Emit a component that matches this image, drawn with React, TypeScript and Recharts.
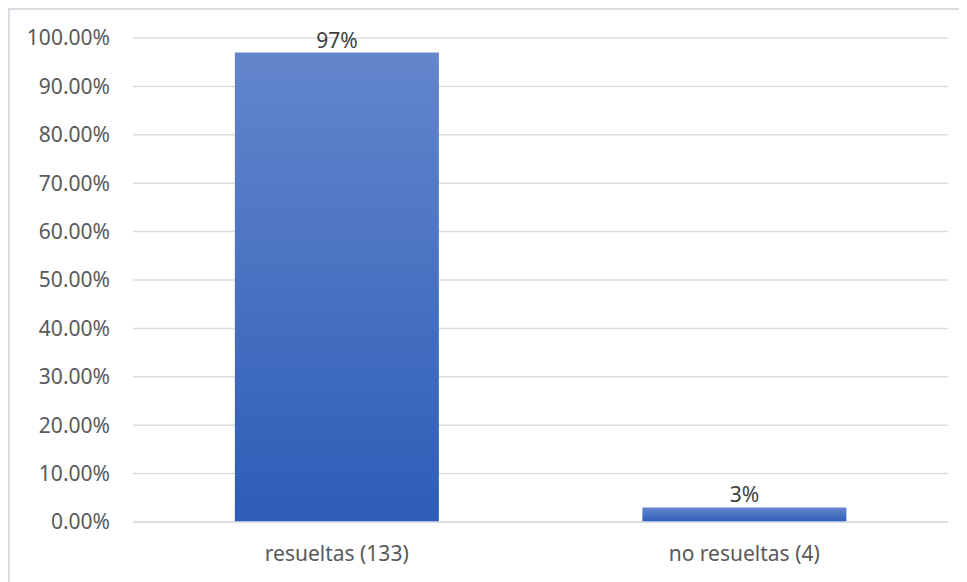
import { BarChart, Bar, XAxis, YAxis, CartesianGrid, LabelList } from 'recharts';

const categories = ['resueltas (133)', 'no resueltas (4)'];
const shares = [0.97, 0.03];
const shareLabels = ['97%', '3%'];
const yTicks = [0, 0.1, 0.2, 0.3, 0.4, 0.5, 0.6, 0.7, 0.8, 0.9, 1];

const data = categories.map((name, i) => ({ name, share: shares[i], label: shareLabels[i] }));

const FONT = '"Noto Sans", sans-serif';
const GRID = '#d9dde3';

const App = () => {
    return (
        <div style={{
            width: 959,
            height: 574,
            boxSizing: 'border-box',
            borderTop: `2px solid ${GRID}`,
            borderLeft: `2px solid ${GRID}`,
            overflow: 'hidden',
            fontFamily: FONT,
        }}>
            <BarChart
                width={957}
                height={572}
                data={data}
                margin={{ top: 28, right: 19, left: 0, bottom: 0 }}
                barCategoryGap="25%"
            >
                <defs>
                    <linearGradient id="barFill" x1="0" y1="0" x2="0" y2="1">
                        <stop offset="0%" stopColor="#6386cc" />
                        <stop offset="100%" stopColor="#2d5db7" />
                    </linearGradient>
                </defs>
                <CartesianGrid vertical={false} stroke={GRID} strokeWidth={1.5} />
                <XAxis
                    dataKey="name"
                    height={60}
                    tickLine={false}
                    axisLine={{ stroke: GRID, strokeWidth: 1.5 }}
                    tickMargin={18}
                    tick={{ fill: '#595959', fontSize: 21, fontFamily: FONT }}
                />
                <YAxis
                    width={123}
                    domain={[0, 1]}
                    ticks={yTicks}
                    interval={0}
                    tickLine={false}
                    axisLine={false}
                    tickMargin={17}
                    tickFormatter={(v: number) => `${(v * 100).toFixed(2)}%`}
                    tick={{ fill: '#595959', fontSize: 21, fontFamily: FONT }}
                />
                <Bar dataKey="share" fill="url(#barFill)" isAnimationActive={false}>
                    <LabelList
                        dataKey="label"
                        position="top"
                        offset={5}
                        fill="#404040"
                        fontSize={21}
                        fontFamily={FONT}
                    />
                </Bar>
            </BarChart>
        </div>
    );
};

export default App;
